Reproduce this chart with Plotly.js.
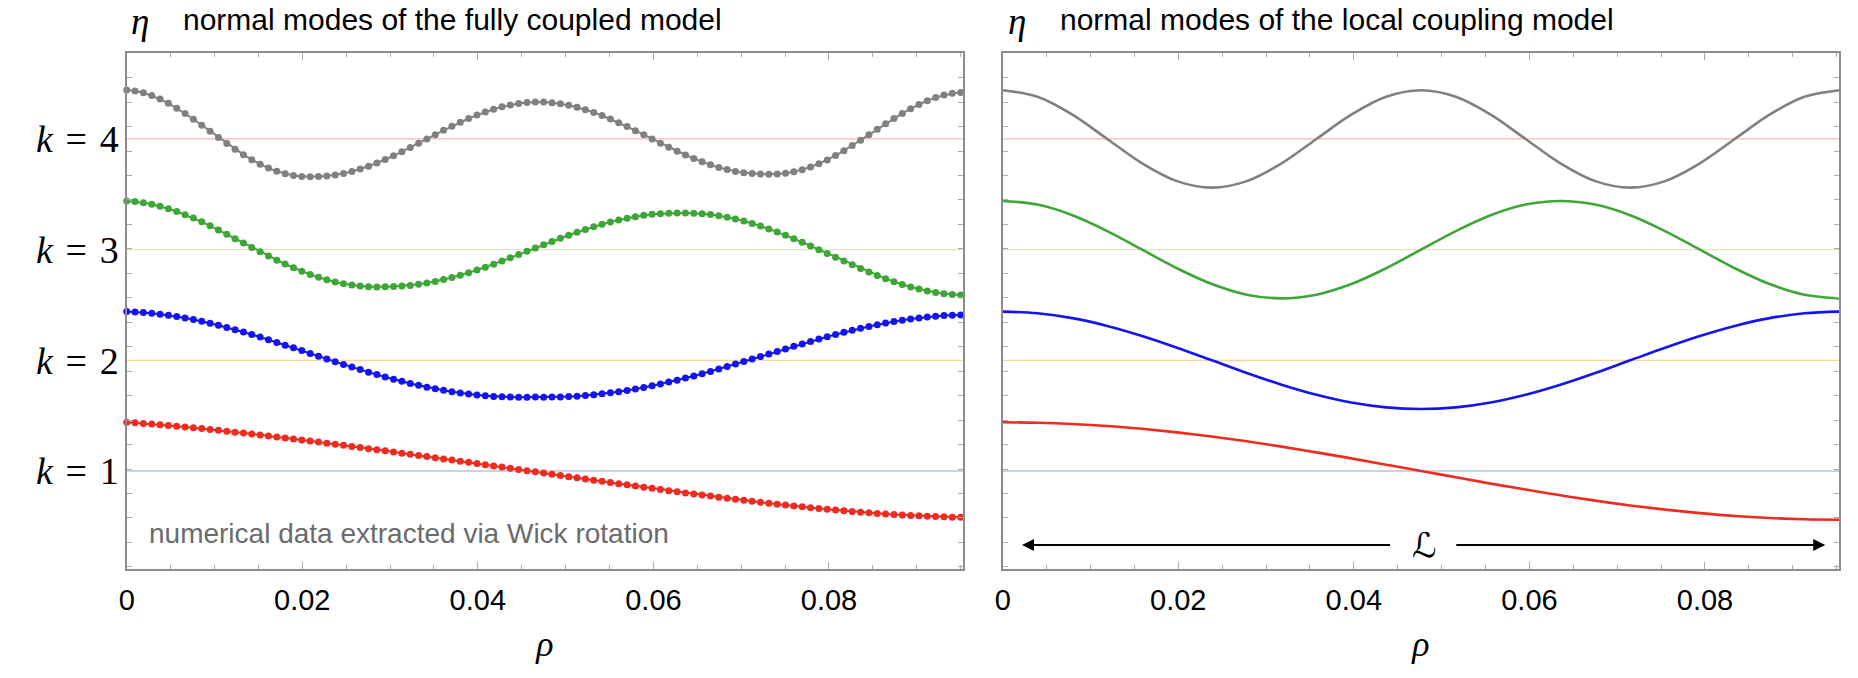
<!DOCTYPE html>
<html>
<head>
<meta charset="utf-8">
<script src="https://cdn.plot.ly/plotly-3.0.1.min.js"></script>
<style>html,body{margin:0;padding:0;background:#fff;}#chart{width:1858px;height:678px;}</style>
</head>
<body>
<div id="chart"></div>
<script>
// ---------- data ----------
const rhoFull = [0,0.00095,0.0019,0.00285,0.0038,0.00475,0.0057,0.00665,0.0076,0.00855,
0.0095,0.01045,0.0114,0.01235,0.0133,0.01425,0.0152,0.01615,0.0171,0.01805,
0.019,0.01995,0.0209,0.02185,0.0228,0.02375,0.0247,0.02565,0.0266,0.02755,
0.0285,0.02945,0.0304,0.03135,0.0323,0.03325,0.0342,0.03515,0.0361,0.03705,
0.038,0.03895,0.0399,0.04085,0.0418,0.04275,0.0437,0.04465,0.0456,0.04655,
0.0475,0.04845,0.0494,0.05035,0.0513,0.05225,0.0532,0.05415,0.0551,0.05605,
0.057,0.05795,0.0589,0.05985,0.0608,0.06175,0.0627,0.06365,0.0646,0.06555,
0.0665,0.06745,0.0684,0.06935,0.0703,0.07125,0.0722,0.07315,0.0741,0.07505,
0.076,0.07695,0.0779,0.07885,0.0798,0.08075,0.0817,0.08265,0.0836,0.08455,
0.0855,0.08645,0.0874,0.08835,0.0893,0.09025,0.0912,0.09215,0.0931,0.09405,
0.095];

const etaFullK4 = [4.443,4.434,4.417,4.392,4.360,4.322,4.278,4.230,4.178,4.124,
4.069,4.014,3.959,3.907,3.858,3.813,3.772,3.737,3.708,3.686,
3.670,3.661,3.659,3.661,3.666,3.675,3.689,3.706,3.728,3.754,
3.783,3.814,3.848,3.885,3.922,3.961,4.000,4.039,4.078,4.115,
4.151,4.185,4.216,4.244,4.269,4.290,4.307,4.321,4.329,4.334,
4.333,4.328,4.318,4.305,4.287,4.265,4.240,4.212,4.181,4.147,
4.112,4.075,4.038,4.000,3.962,3.925,3.889,3.855,3.823,3.793,
3.766,3.743,3.723,3.707,3.695,3.687,3.683,3.682,3.683,3.690,
3.703,3.722,3.747,3.777,3.811,3.850,3.894,3.940,3.988,4.037,
4.087,4.137,4.185,4.231,4.274,4.312,4.346,4.375,4.397,4.412,
4.420];

const etaFullK3 = [3.440,3.434,3.424,3.410,3.392,3.370,3.345,3.316,3.285,3.251,
3.215,3.177,3.139,3.099,3.060,3.020,2.980,2.942,2.905,2.870,
2.836,2.805,2.776,2.751,2.728,2.708,2.692,2.680,2.671,2.665,
2.663,2.665,2.666,2.671,2.677,2.687,2.699,2.713,2.730,2.749,
2.769,2.792,2.816,2.842,2.869,2.897,2.926,2.955,2.985,3.015,
3.045,3.074,3.103,3.130,3.157,3.183,3.207,3.229,3.249,3.268,
3.284,3.298,3.310,3.319,3.325,3.329,3.330,3.331,3.329,3.324,
3.317,3.306,3.293,3.276,3.258,3.237,3.213,3.187,3.160,3.130,
3.099,3.067,3.034,3.000,2.966,2.931,2.897,2.863,2.830,2.798,
2.767,2.738,2.711,2.686,2.663,2.644,2.626,2.612,2.602,2.594,
2.590];

const etaFullK2 = [2.440,2.437,2.432,2.425,2.417,2.407,2.396,2.383,2.368,2.352,
2.335,2.317,2.297,2.277,2.255,2.233,2.210,2.186,2.162,2.137,
2.113,2.088,2.062,2.037,2.012,1.988,1.963,1.939,1.916,1.893,
1.871,1.850,1.829,1.810,1.791,1.774,1.757,1.742,1.729,1.716,
1.705,1.695,1.687,1.680,1.674,1.670,1.668,1.666,1.666,1.668,
1.667,1.668,1.669,1.672,1.676,1.682,1.689,1.697,1.706,1.717,
1.728,1.741,1.755,1.770,1.786,1.803,1.821,1.840,1.859,1.879,
1.900,1.922,1.944,1.966,1.989,2.011,2.034,2.057,2.080,2.103,
2.126,2.148,2.170,2.192,2.213,2.233,2.253,2.272,2.289,2.306,
2.322,2.337,2.350,2.363,2.374,2.383,2.392,2.399,2.404,2.408,
2.410];

const etaFullK1 = [1.440,1.435,1.429,1.424,1.418,1.411,1.405,1.398,1.391,1.383,
1.376,1.368,1.360,1.351,1.343,1.334,1.326,1.317,1.308,1.299,
1.289,1.280,1.270,1.261,1.251,1.241,1.232,1.222,1.212,1.202,
1.192,1.182,1.171,1.161,1.151,1.141,1.130,1.120,1.109,1.099,
1.088,1.078,1.067,1.057,1.046,1.035,1.025,1.014,1.003,0.993,
0.982,0.971,0.960,0.949,0.939,0.928,0.917,0.907,0.896,0.885,
0.875,0.864,0.854,0.843,0.833,0.822,0.812,0.802,0.792,0.782,
0.773,0.763,0.754,0.744,0.735,0.726,0.717,0.709,0.700,0.692,
0.684,0.676,0.668,0.661,0.654,0.647,0.640,0.634,0.628,0.622,
0.617,0.612,0.607,0.603,0.599,0.595,0.591,0.588,0.586,0.583,
0.581];

const rhoLocal = [0,0.00397,0.00794,0.01191,0.01588,0.01985,0.02383,0.0278,0.03177,0.03574,
0.03971,0.04368,0.04765,0.05162,0.05559,0.05956,0.06353,0.0675,0.07148,0.07545,
0.07942,0.08339,0.08736,0.09133,0.0953];

const etaLocalK1 = [1.44,1.436,1.425,1.407,1.381,1.349,1.311,1.268,1.22,1.168,1.114,1.057,1.0,
0.943,0.886,0.832,0.78,0.732,0.689,0.651,0.619,0.593,0.575,0.564,0.56];
const etaLocalK2 = [2.44,2.425,2.381,2.311,2.22,2.114,2.0,1.886,1.78,1.689,1.619,1.575,1.56,
1.575,1.619,1.689,1.78,1.886,2.0,2.114,2.22,2.311,2.381,2.425,2.44];
const etaLocalK3 = [3.44,3.407,3.311,3.168,3.0,2.832,2.689,2.593,2.56,2.593,2.689,2.832,3.0,
3.168,3.311,3.407,3.44,3.407,3.311,3.168,3.0,2.832,2.689,2.593,2.56];
const etaLocalK4 = [4.44,4.381,4.22,4.0,3.78,3.619,3.56,3.619,3.78,4.0,4.22,4.381,4.44,
4.381,4.22,4.0,3.78,3.619,3.56,3.619,3.78,4.0,4.22,4.381,4.44];

const kLevels = [1, 2, 3, 4];
const kLabels = ['<i>k</i>\u2004=\u20041', '<i>k</i>\u2004=\u20042', '<i>k</i>\u2004=\u20043', '<i>k</i>\u2004=\u20044'];
const xTickVals = [0, 0.02, 0.04, 0.06, 0.08];
const xTickText = ['0', '0.02', '0.04', '0.06', '0.08'];
const rhoEnd = 0.0953;

// ---------- styling ----------
const kLineColors = ['#b9c3e0', '#f6d49c', '#e2e2c6', '#f2bdb4'];
const modeColors = ['#ef2b20', '#1414f2', '#3da636', '#808080'];
const frameColor = '#8c8c8c';
const tickColor = '#a8a8a8';
const W = 1858, H = 678;
const px = v => v / W, py = v => 1 - v / H;

const fullSeries = [etaFullK1, etaFullK2, etaFullK3, etaFullK4];
const localSeries = [etaLocalK1, etaLocalK2, etaLocalK3, etaLocalK4];

const traces = [];
// reference lines at each k
kLevels.forEach((k, i) => {
  [['x', 'y'], ['x2', 'y2']].forEach(([xa, ya]) => {
    traces.push({x: [0, rhoEnd], y: [k, k], xaxis: xa, yaxis: ya, mode: 'lines',
      line: {color: kLineColors[i], width: 1.3}, hoverinfo: 'skip'});
  });
});
fullSeries.forEach((s, i) => {
  traces.push({x: rhoFull, y: s, xaxis: 'x', yaxis: 'y', mode: 'lines+markers',
    line: {color: modeColors[i], width: 2},
    marker: {color: modeColors[i], size: 7}, cliponaxis: false});
});
localSeries.forEach((s, i) => {
  traces.push({x: rhoLocal, y: s, xaxis: 'x2', yaxis: 'y2', mode: 'lines',
    line: {color: modeColors[i], width: 2.6, shape: 'spline', smoothing: 1.0}});
});
// invisible trace so the k-label axis (y3) is drawn
traces.push({x: [0], y: [1], xaxis: 'x', yaxis: 'y3', mode: 'markers',
  marker: {size: 1, opacity: 0}, hoverinfo: 'skip'});

const yRange = [0.1145, 4.774];
const yDomain = [1 - 569 / H, 1 - 53.3 / H];

function xAxis(domain, anchor) {
  return {domain: domain, anchor: anchor, range: [0, rhoEnd], tickmode: 'array',
    tickvals: xTickVals, ticktext: xTickText, ticks: 'inside', ticklen: 7,
    tickcolor: tickColor, tickwidth: 1, showline: true, linecolor: frameColor, linewidth: 2,
    mirror: 'ticks', showgrid: false, zeroline: false, ticklabelstandoff: 4,
    minor: {tickmode: 'linear', tick0: 0, dtick: 0.005, ticks: 'inside', ticklen: 4, tickcolor: tickColor, showgrid: false},
    tickfont: {family: 'Liberation Sans, Arial, sans-serif', size: 29, color: '#000'},
    title: {text: '<i>ρ</i>', font: {family: 'Liberation Serif, serif', size: 36, color: '#000'}, standoff: 16},
    automargin: false};
}
function yAxis(domain, anchor) {
  return {domain: domain, anchor: anchor, range: yRange, tickmode: 'linear', tick0: 1.018, dtick: 0.221,
    ticks: 'inside', ticklen: 5, tickcolor: tickColor, showticklabels: false,
    showline: true, linecolor: frameColor, linewidth: 2, mirror: 'ticks',
    showgrid: false, zeroline: false, automargin: false};
}

const sansFont = 'Liberation Sans, Arial, sans-serif';
const layout = {
  width: W, height: H, margin: {l: 0, r: 0, t: 0, b: 0}, paper_bgcolor: '#fff', plot_bgcolor: '#fff',
  showlegend: false,
  xaxis: xAxis([px(126.7), px(963.3)], 'y'),
  yaxis: yAxis(yDomain, 'x'),
  xaxis2: xAxis([px(1002.7), px(1839.3)], 'y2'),
  yaxis2: yAxis(yDomain, 'x2'),
  yaxis3: {overlaying: 'y', anchor: 'x', side: 'left', range: yRange, tickmode: 'array',
    tickvals: kLevels, ticktext: kLabels, ticks: '', showline: false, showgrid: false, zeroline: false,
    ticklabelstandoff: 7,
    tickfont: {family: 'Liberation Serif, serif', size: 38, color: '#000'}, automargin: false},
  annotations: [
    {xref: 'paper', yref: 'paper', x: px(140), y: py(21), xanchor: 'center', yanchor: 'middle', text: '<i>η</i>', showarrow: false,
      font: {family: 'Liberation Serif, serif', size: 37, color: '#000'}},
    {xref: 'paper', yref: 'paper', x: px(181), y: py(19), xanchor: 'left', yanchor: 'middle', text: 'normal modes of the fully coupled model',
      showarrow: false, font: {family: sansFont, size: 30, color: '#000'}},
    {xref: 'paper', yref: 'paper', x: px(1017), y: py(21), xanchor: 'center', yanchor: 'middle', text: '<i>η</i>', showarrow: false,
      font: {family: 'Liberation Serif, serif', size: 37, color: '#000'}},
    {xref: 'paper', yref: 'paper', x: px(1058), y: py(19), xanchor: 'left', yanchor: 'middle', text: 'normal modes of the local coupling model',
      showarrow: false, font: {family: sansFont, size: 30, color: '#000'}},
    {xref: 'paper', yref: 'paper', x: px(147), y: py(533), xanchor: 'left', yanchor: 'middle', text: 'numerical data extracted via Wick rotation',
      showarrow: false, font: {family: sansFont, size: 28, color: '#6b6b6b'}},
    {xref: 'x2', yref: 'y2', x: 0.048, y: 0.331, xanchor: 'center', yanchor: 'middle', text: 'ℒ', showarrow: false,
      font: {family: 'DejaVu Serif, DejaVu Sans, serif', size: 34, color: '#000'}},
    {xref: 'x2', yref: 'y2', x: 0.0022, y: 0.331, axref: 'x2', ayref: 'y2', ax: 0.0443, ay: 0.331, text: '',
      showarrow: true, arrowhead: 2, arrowsize: 1.2, arrowwidth: 2, arrowcolor: '#000'},
    {xref: 'x2', yref: 'y2', x: 0.0937, y: 0.331, axref: 'x2', ayref: 'y2', ax: 0.0515, ay: 0.331, text: '',
      showarrow: true, arrowhead: 2, arrowsize: 1.2, arrowwidth: 2, arrowcolor: '#000'}
  ]
};

Plotly.newPlot('chart', traces, layout, {staticPlot: true, displayModeBar: false});
</script>
</body>
</html>
